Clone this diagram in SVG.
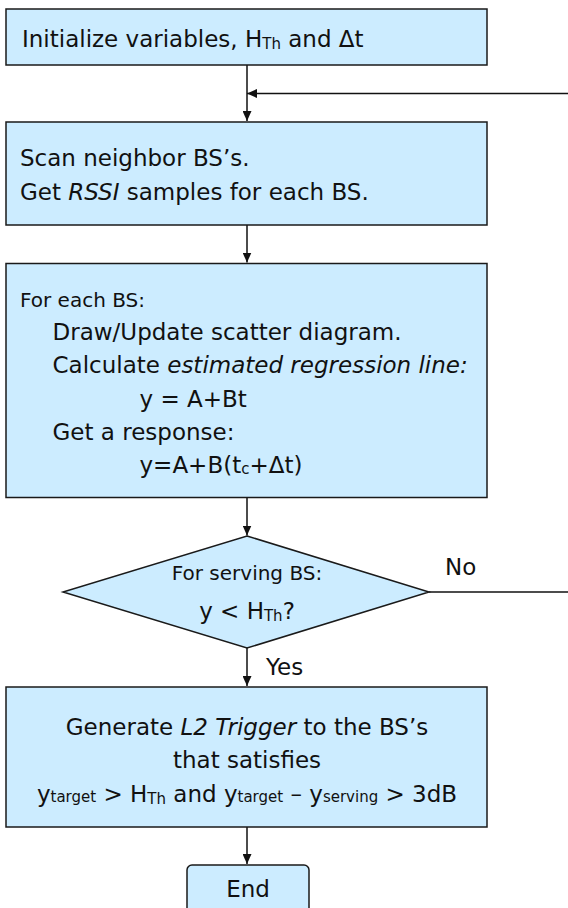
<svg xmlns="http://www.w3.org/2000/svg" width="568" height="908" viewBox="0 0 568 908">
<style>
text{font-family:"DejaVu Sans","Liberation Sans",sans-serif;fill:#111;font-size:23px}
.box{fill:#ccecff;stroke:#1a1a1a;stroke-width:1.5}
.conn{stroke:#111;stroke-width:1.5;fill:none}
.sm{font-size:20px}
.sub{font-size:15px}
.it{font-style:italic}
.mid{text-anchor:middle}
</style>
<defs>
<marker id="arr" markerUnits="userSpaceOnUse" markerWidth="11" markerHeight="9" refX="10" refY="4.5" orient="auto">
<path d="M0,0 L10,4.5 L0,9 z" fill="#111"/>
</marker>
</defs>
<rect width="568" height="908" fill="#fff"/>

<g id="connectors">
<line class="conn" x1="247" y1="65" x2="247" y2="121" marker-end="url(#arr)"/>
<line class="conn" x1="570" y1="93.5" x2="247" y2="93.5" marker-end="url(#arr)"/>
<line class="conn" x1="247" y1="225" x2="247" y2="262.5" marker-end="url(#arr)"/>
<line class="conn" x1="247" y1="497.5" x2="247" y2="535.5" marker-end="url(#arr)"/>
<line class="conn" x1="429" y1="592" x2="570" y2="592"/>
<line class="conn" x1="247" y1="648" x2="247" y2="686" marker-end="url(#arr)"/>
<line class="conn" x1="247" y1="827" x2="247" y2="864" marker-end="url(#arr)"/>
<text x="445" y="575" font-size="21">No</text>
<text x="266" y="675" font-size="22">Yes</text>
</g>

<g id="init">
<rect class="box" x="6" y="9" width="481" height="56"/>
<text x="22" y="47">Initialize variables, H<tspan class="sub" dy="2">Th</tspan><tspan dy="-2"> and Δt</tspan></text>
</g>

<g id="scan">
<rect class="box" x="6" y="122" width="481" height="103"/>
<text x="20" y="166">Scan neighbor BS’s.</text>
<text x="20" y="200">Get <tspan class="it">RSSI</tspan> samples for each BS.</text>
</g>

<g id="regression">
<rect class="box" x="6" y="263.5" width="481" height="234"/>
<text class="sm" x="20" y="307">For each BS:</text>
<text x="52.5" y="340">Draw/Update scatter diagram.</text>
<text x="52.5" y="373">Calculate <tspan class="it">estimated regression line:</tspan></text>
<text x="139.5" y="407">y = A+Bt</text>
<text x="52.5" y="439.5">Get a response:</text>
<text x="139.5" y="473">y=A+B(t<tspan class="sub" dy="1">c</tspan><tspan dy="-1">+Δt)</tspan></text>
</g>

<g id="decision">
<polygon class="box" points="247,536 429,592 247,648 63,592"/>
<text class="sm mid" x="247" y="580">For serving BS:</text>
<text class="mid" x="247" y="619">y &lt; H<tspan class="sub" dy="2">Th</tspan><tspan dy="-2">?</tspan></text>
</g>

<g id="trigger">
<rect class="box" x="6" y="687" width="481" height="140"/>
<text class="mid" x="247" y="735">Generate <tspan class="it">L2 Trigger</tspan> to the BS’s</text>
<text class="mid" x="247" y="768">that satisfies</text>
<text class="mid" x="247" y="802">y<tspan class="sub">target</tspan> &gt; H<tspan class="sub" dy="2">Th</tspan><tspan dy="-2"> and y</tspan><tspan class="sub">target</tspan> – y<tspan class="sub">serving</tspan> &gt; 3dB</text>
</g>

<g id="end">
<rect class="box" x="187" y="865" width="122" height="60" rx="5"/>
<text class="mid" x="248" y="897">End</text>
</g>
</svg>
